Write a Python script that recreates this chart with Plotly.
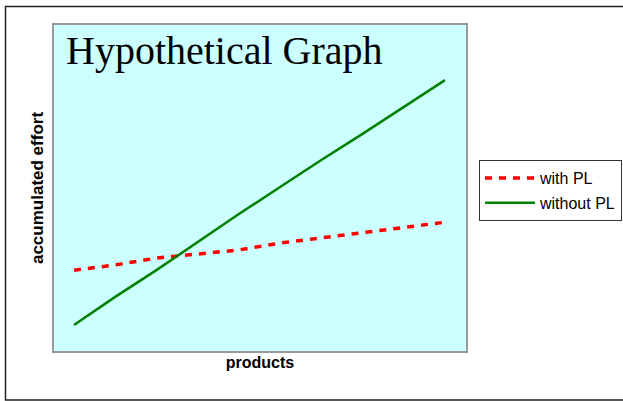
import plotly.graph_objects as go

products = [1, 2, 3, 4, 5, 6, 7, 8, 9, 10]
effort_with_pl = [24.8, 26.4, 28.5, 29.8, 31.0, 33.1, 34.7, 36.2, 37.7, 39.5]
effort_without_pl = [8.0, 16.6, 24.8, 33.4, 42.0, 50.3, 58.6, 66.6, 74.8, 83.1]
series_names = ["with PL", "without PL"]

W, H = 623, 401
L, R, T, B = 54, 157, 25, 50
pw, ph = W - L - R, H - T - B

SANS = "Liberation Sans, Arial, sans-serif"

fig = go.Figure()
fig.add_trace(go.Scatter(x=products, y=effort_with_pl, mode="lines", name=series_names[0],
                         legendgroup="a",
                         line=dict(color="#ff0000", width=3.5, dash="7px,7px")))
fig.add_trace(go.Scatter(x=products, y=effort_without_pl, mode="lines", name=series_names[1],
                         legendgroup="b",
                         line=dict(color="#008000", width=2.5)))

def px_x(p):
    return (p - L) / pw

def px_y(p):
    return (H - B - p) / ph

fig.add_shape(type="rect", xref="paper", yref="paper",
              x0=px_x(5.5), x1=px_x(640), y0=px_y(400), y1=px_y(6.5),
              line=dict(color="#222222", width=1.5), layer="below")

fig.add_annotation(text="Hypothetical Graph", xref="paper", yref="paper",
                   x=px_x(224), y=px_y(50), xanchor="center", yanchor="middle", showarrow=False,
                   font=dict(family="Liberation Serif, Times New Roman, serif", size=40, color="black"))

fig.update_layout(
    width=W, height=H,
    margin=dict(l=L, r=R, t=T, b=B, pad=0, autoexpand=False),
    paper_bgcolor="white",
    plot_bgcolor="#ccffff",
    showlegend=True,
    legend=dict(x=px_x(479), y=px_y(160), xanchor="left", yanchor="top",
                bgcolor="white", bordercolor="#333333", borderwidth=1,
                font=dict(family=SANS, size=16, color="black"),
                tracegroupgap=1, itemwidth=50),
    xaxis=dict(range=[0.515, 10.51], showticklabels=False, ticks="", showgrid=False, zeroline=False,
               showline=True, mirror=True, linecolor="#999999", linewidth=1.5,
               title=dict(text="<b>products</b>", standoff=5,
                          font=dict(family=SANS, size=16, color="black"))),
    yaxis=dict(range=[0, 100], showticklabels=False, ticks="", showgrid=False, zeroline=False,
               showline=True, mirror=True, linecolor="#999999", linewidth=1.5,
               title=dict(text="<b>accumulated effort</b>", standoff=4,
                          font=dict(family=SANS, size=17, color="black"))),
)

fig.write_html("out.html", config={"displayModeBar": False},
               post_script="document.body.style.margin='0';")
